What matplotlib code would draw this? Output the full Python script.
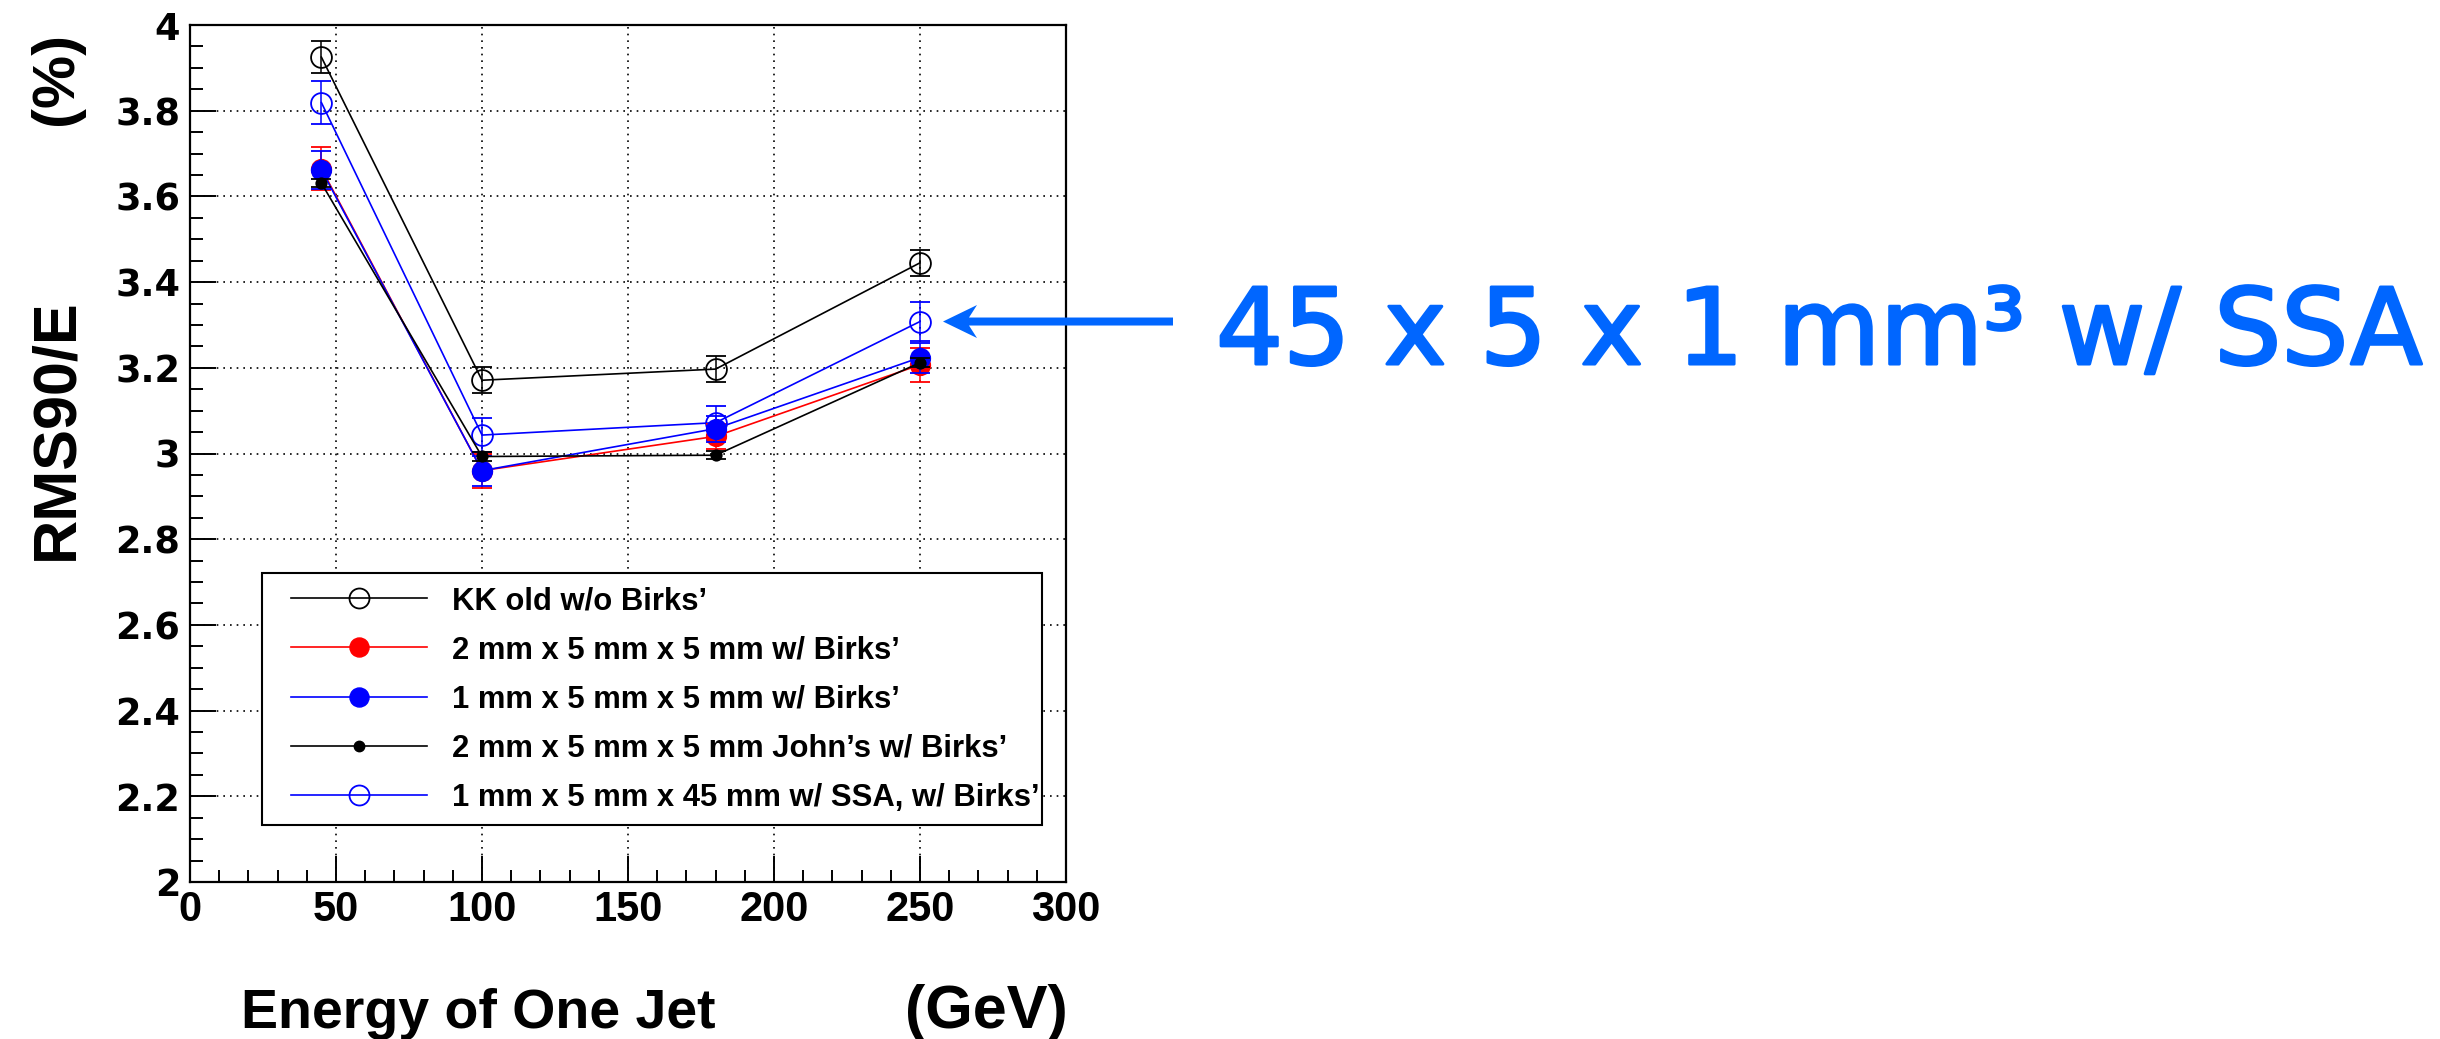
import numpy as np
import matplotlib
matplotlib.use("Agg")
import matplotlib.pyplot as plt
from matplotlib.lines import Line2D
from matplotlib.patches import Rectangle, Polygon
from matplotlib.ticker import MultipleLocator, FormatStrFormatter
import matplotlib.transforms as mtransforms
import matplotlib.patheffects as pe

plt.rcParams['font.family'] = ['Liberation Sans', 'DejaVu Sans']

# ---------------- data ----------------
energy = [45, 100, 180, 250]

kk_old = [3.925, 3.171, 3.197, 3.445]
kk_old_err = [0.038, 0.030, 0.030, 0.030]

red_2mm = [3.665, 2.960, 3.040, 3.207]
red_2mm_err = [0.050, 0.040, 0.030, 0.040]

blue_1mm = [3.662, 2.960, 3.058, 3.224]
blue_1mm_err = [0.045, 0.035, 0.030, 0.035]

john_2mm = [3.631, 2.993, 2.996, 3.212]
john_2mm_err = [0.010, 0.010, 0.010, 0.010]

ssa_1mm = [3.819, 3.043, 3.072, 3.308]
ssa_1mm_err = [0.050, 0.040, 0.040, 0.045]

labels = ["KK old w/o Birks\u2019",
          "2 mm x 5 mm x 5 mm w/ Birks\u2019",
          "1 mm x 5 mm x 5 mm w/ Birks\u2019",
          "2 mm x 5 mm x 5 mm John\u2019s w/ Birks\u2019",
          "1 mm x 5 mm x 45 mm w/ SSA, w/ Birks\u2019"]

xlim = (0, 300)
ylim = (2, 4)
# --------------------------------------

W, H = 2440, 1039
fig = plt.figure(figsize=(W / 100, H / 100), dpi=100)
ax_l, ax_r, ax_t, ax_b = 190, 1066, 25, 882
ax = fig.add_axes([ax_l / W, 1 - ax_b / H, (ax_r - ax_l) / W, (ax_b - ax_t) / H])

ax.set_xlim(*xlim)
ax.set_ylim(*ylim)

series = [
    (kk_old, kk_old_err, 'black', 'o', 15, 'none', 3),
    (ssa_1mm, ssa_1mm_err, 'blue', 'o', 15, 'none', 4),
    (red_2mm, red_2mm_err, 'red', 'o', 14, 'red', 5),
    (blue_1mm, blue_1mm_err, 'blue', 'o', 14, 'blue', 6),
    (john_2mm, john_2mm_err, 'black', 'o', 7.5, 'black', 7),
]
for vals, errs, col, mk, ms, mfc, z in series:
    ax.errorbar(energy, vals, yerr=errs, color=col, ecolor=col, elinewidth=1.1,
                capsize=7, capthick=1.1, marker=mk, markersize=ms,
                markerfacecolor=mfc, markeredgecolor=col, markeredgewidth=1.3,
                linewidth=1.2, zorder=z)

# axes styling
for s in ax.spines.values():
    s.set_linewidth(1.6)
ax.xaxis.set_major_locator(MultipleLocator(50))
ax.xaxis.set_minor_locator(MultipleLocator(10))
ax.yaxis.set_major_locator(MultipleLocator(0.2))
ax.yaxis.set_minor_locator(MultipleLocator(0.05))
ax.yaxis.set_major_formatter(FormatStrFormatter('%g'))
ax.tick_params(which='major', direction='in', length=19, width=1.4,
               top=False, right=False)
ax.tick_params(which='minor', direction='in', length=9, width=1.4,
               top=False, right=False)
ax.tick_params(axis='y', which='major', pad=7)
ax.tick_params(axis='x', which='major', pad=6)
for t in ax.get_yticklabels():
    t.set_fontfamily('DejaVu Sans')
    t.set_fontweight('bold')
    t.set_fontsize(26.4)
for t in ax.get_xticklabels():
    t.set_fontfamily(['Liberation Sans', 'DejaVu Sans'])
    t.set_fontweight('bold')
    t.set_fontsize(30)

ax.grid(True, which='major', color='black', linestyle=(0, (1, 3)), linewidth=1.2)
ax.set_axisbelow(False)
for gl in ax.get_xgridlines() + ax.get_ygridlines():
    gl.set_zorder(1)

# legend frame
lx0 = (262 - ax_l) / (ax_r - ax_l)
lx1 = (1042 - ax_l) / (ax_r - ax_l)
ly0 = (ax_b - 825) / (ax_b - ax_t)
ly1 = (ax_b - 573) / (ax_b - ax_t)
ax.add_patch(Rectangle((lx0, ly0), lx1 - lx0, ly1 - ly0, transform=ax.transAxes,
                       facecolor='white', edgecolor='black', linewidth=1.5,
                       zorder=9))

handles = [
    Line2D([], [], color='black', marker='o', markersize=14.4, markerfacecolor='none',
           markeredgecolor='black', markeredgewidth=1.3, linewidth=1.2),
    Line2D([], [], color='red', marker='o', markersize=13.7, markerfacecolor='red',
           markeredgecolor='red', linewidth=1.2),
    Line2D([], [], color='blue', marker='o', markersize=13.7, markerfacecolor='blue',
           markeredgecolor='blue', linewidth=1.2),
    Line2D([], [], color='black', marker='o', markersize=7.5, markerfacecolor='black',
           markeredgecolor='black', linewidth=1.2),
    Line2D([], [], color='blue', marker='o', markersize=14.4, markerfacecolor='none',
           markeredgecolor='blue', markeredgewidth=1.3, linewidth=1.2),
]
hx = (291 - ax_l) / (ax_r - ax_l)
ty = (ax_b - 586) / (ax_b - ax_t)
leg = ax.legend(handles, labels, loc='upper left', bbox_to_anchor=(hx, ty),
                bbox_transform=ax.transAxes, frameon=False, borderpad=0,
                borderaxespad=0, handlelength=4.38, handletextpad=0.82,
                labelspacing=0.62,
                prop={'family': ['Liberation Sans', 'DejaVu Sans'],
                      'weight': 'bold', 'size': 22.3})
leg.set_zorder(10)

# axis titles
fig.text(241 / W, 1 - 1028 / H, "Energy of One Jet", ha='left', va='baseline',
         fontsize=40, fontweight='bold')
fig.text(1068 / W, 1 - 1028 / H, "(GeV)", ha='right', va='baseline',
         fontsize=44, fontweight='bold')
fig.text(72 / W, 1 - 298 / H, "RMS90/E", rotation=90, rotation_mode='anchor',
         ha='right', va='baseline', fontsize=44, fontweight='bold')
fig.text(72 / W, 1 - 32 / H, "(%)", rotation=90, rotation_mode='anchor',
         ha='right', va='baseline', fontsize=43, fontweight='bold')

# annotation arrow pointing at the last SSA point
acol = '#0066FF'
arrow_shape = np.array([[23, 0], [57, 16.5], [49, 4], [253, 4], [253, -4],
                        [49, -4], [57, -16.5]])
trans = mtransforms.Affine2D() + mtransforms.ScaledTranslation(
    energy[-1], ssa_1mm[-1], ax.transData)
arrow = Polygon(arrow_shape, closed=True, facecolor=acol, edgecolor='none',
                transform=trans, clip_on=False, zorder=20)
fig.add_artist(arrow)

fig.text(1216 / W, 1 - 364 / H, "45 x 5 x 1 mm\u00b3 w/ SSA", ha='left',
         va='baseline', fontsize=76, family='DejaVu Sans', color=acol,
         path_effects=[pe.withStroke(linewidth=2.2, foreground=acol)])

fig.savefig("out.png", dpi=100, facecolor='white')
